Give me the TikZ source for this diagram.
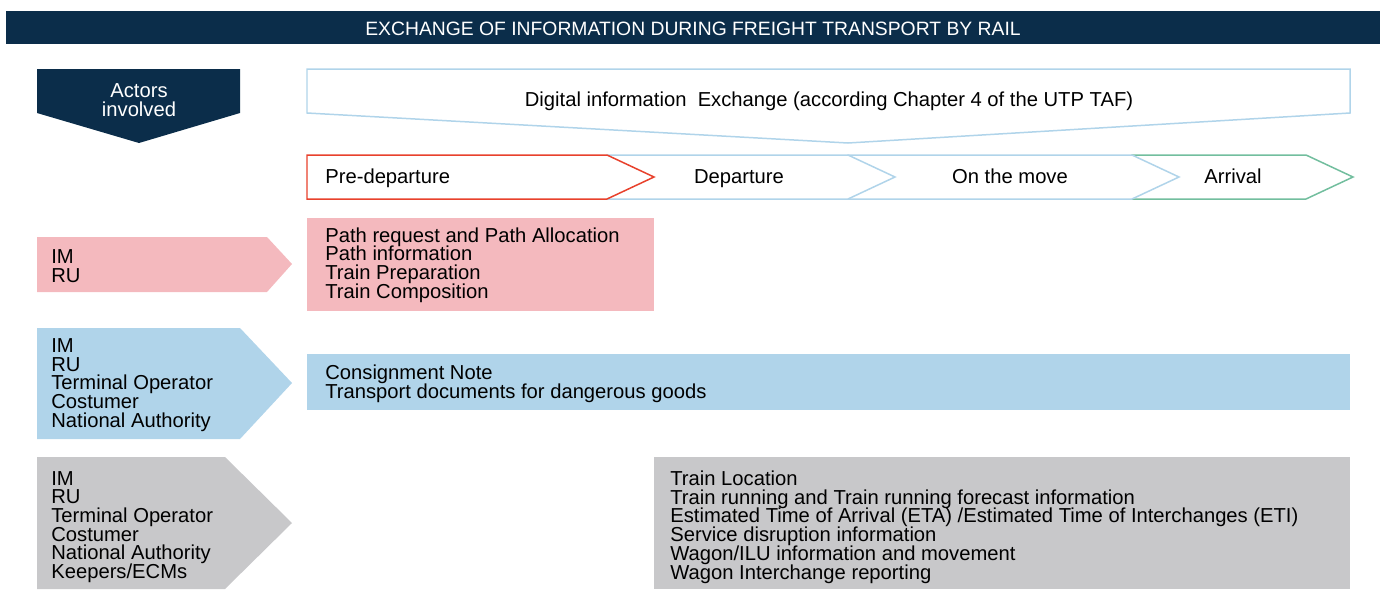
\documentclass[tikz,border=0pt]{standalone}
\usepackage{fontspec}
\setmainfont{Liberation Sans}
\definecolor{navy}{HTML}{0B2D4A}
\definecolor{lineblue}{HTML}{B0D4EA}
\definecolor{predred}{HTML}{E8412C}
\definecolor{arrgreen}{HTML}{72BE9E}
\definecolor{rowpink}{HTML}{F4B9BE}
\definecolor{rowblue}{HTML}{B0D4EA}
\definecolor{rowgrey}{HTML}{C8C8CA}
\newcommand{\rowfont}{\fontsize{11.5pt}{10.65pt}\selectfont\lineskiplimit=-20pt}
\tikzset{
    txt/.style={inner sep=0pt, align=left, anchor=west, font=\rowfont},
    ctxt/.style={inner sep=0pt, align=center, font=\rowfont},
    outl/.style={line width=0.85pt, fill=white}
}
\begin{document}
\begin{tikzpicture}[x=0.02cm, y=-0.02cm]
    \useasboundingbox (0,0) rectangle (1387,589);
    % header
    \fill[navy] (6,11) rectangle (1380,44);
    \node[ctxt, text=white, font=\fontsize{11pt}{12pt}\selectfont] (title) at (693,29) {EXCHANGE OF INFORMATION DURING FREIGHT TRANSPORT BY RAIL};
    \fill[navy] (37,69) -- (240,69) -- (240,113) -- (139,143) -- (37,113) -- cycle;
    \node[ctxt, text=white] (actors) at (139,100) {Actors\\involved};
    \draw[outl, draw=lineblue] (307,69) -- (1350,69) -- (1350,113) -- (848,143) -- (307,113) -- cycle;
    \node[ctxt] (digital) at (829,101) {Digital information\ \ Exchange (according Chapter 4 of the UTP TAF)};
    % phases
    \foreach \xa/\xb/\col in {1132/1306/arrgreen, 848/1132/lineblue, 607/848/lineblue, 307/607/predred}
    {
        \draw[outl, draw=\col] (\xa,155) -- (\xb,155) -- (\xb + 47,177) -- (\xb,199) -- (\xa,199) -- cycle;
    }
    \node[txt, anchor=base west] (predep) at (325,183) {Pre-departure};
    \node[ctxt, anchor=base] (dep) at (739,183) {Departure};
    \node[ctxt, anchor=base] (move) at (1010,183) {On the move};
    \node[ctxt, anchor=base] (arr) at (1233,183) {Arrival};
    % rows
    \fill[rowpink] (37,237) -- (267,237) -- (292,264) -- (267,292) -- (37,292) -- cycle;
    \fill[rowblue] (37,328) -- (240,328) -- (292,383) -- (240,439) -- (37,439) -- cycle;
    \fill[rowgrey] (37,457) -- (225,457) -- (292,523) -- (225,589) -- (37,589) -- cycle;
    \node[txt] (act1) at (51,266) {IM\\RU};
    \node[txt] (act2) at (51,385) {IM\\RU\\Terminal Operator\\Costumer\\National Authority};
    \node[txt] (act3) at (51,527) {IM\\RU\\Terminal Operator\\Costumer\\National Authority\\Keepers/ECMs};
    \fill[rowpink] (307,218) rectangle (654,311);
    \fill[rowblue] (307,354) rectangle (1350,410);
    \fill[rowgrey] (654,457) rectangle (1350,589);
    \node[txt] (info1) at (325,265) {Path request and Path Allocation\\Path information\\Train Preparation\\Train Composition};
    \node[txt] (info2) at (325,384) {Consignment Note\\Transport documents for dangerous goods};
    \node[txt] (info3) at (670,527) {Train Location\\Train running and Train running forecast information\\Estimated Time of Arrival (ETA) /Estimated Time of Interchanges (ETI)\\Service disruption information\\Wagon/ILU information and movement\\Wagon Interchange reporting};
\end{tikzpicture}
\end{document}
